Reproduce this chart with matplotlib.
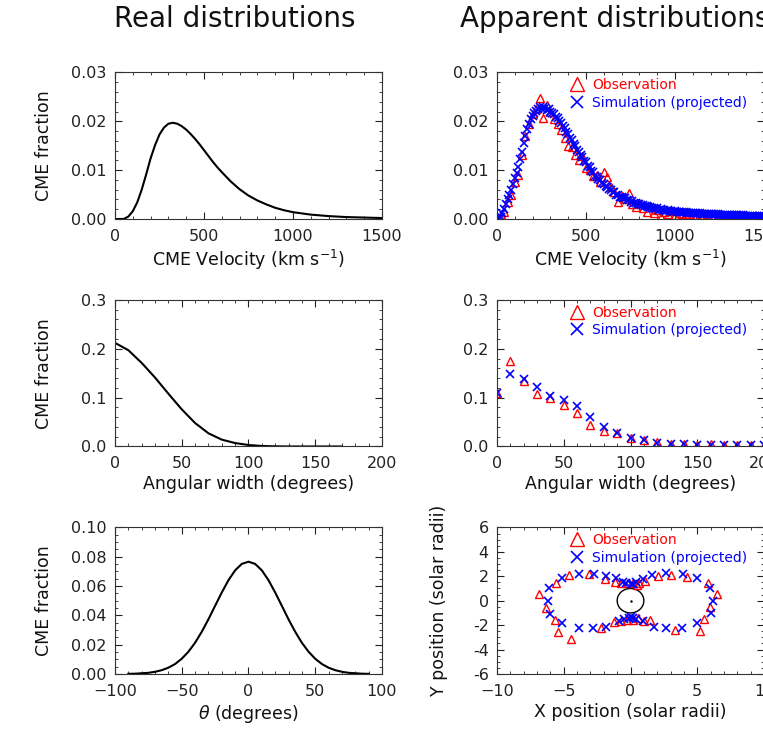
import numpy as np
import matplotlib
matplotlib.use('Agg')
import matplotlib.pyplot as plt
from matplotlib.ticker import MultipleLocator, FormatStrFormatter
from matplotlib.patches import Circle

# ---- real distributions (model input) ----
real_vel = [0, 25, 50, 75, 100, 125, 150, 175, 200, 225, 250, 275, 300, 325, 350,
            375, 400, 425, 450, 475, 500, 525, 550, 575, 600, 650, 700, 750, 800,
            850, 900, 950, 1000, 1100, 1200, 1300, 1400, 1500]
real_vel_frac = [0.0, 0.0, 0.00002, 0.0005, 0.0016, 0.0034, 0.0060, 0.0091, 0.0124,
                 0.0151, 0.0173, 0.0187, 0.0195, 0.0197, 0.0195, 0.0190, 0.0183,
                 0.0174, 0.0164, 0.0153, 0.0141, 0.0129, 0.0117, 0.0106, 0.0096,
                 0.0077, 0.0061, 0.0048, 0.0038, 0.0030, 0.0023, 0.0018, 0.0014,
                 0.0009, 0.0006, 0.0004, 0.0003, 0.0002]

real_width = [0, 10, 20, 30, 40, 50, 60, 70, 80, 90, 100, 110, 120, 130, 140, 150, 160, 170]
real_width_frac = [0.212, 0.197, 0.171, 0.141, 0.108, 0.076, 0.048, 0.027, 0.014, 0.007,
                   0.003, 0.001, 0.0003, 0.0, 0.0, 0.0, 0.0, 0.0]

real_theta = [-90, -85, -80, -75, -70, -65, -60, -55, -50, -45, -40, -35, -30, -25, -20,
              -15, -10, -5, 0, 5, 10, 15, 20, 25, 30, 35, 40, 45, 50, 55, 60, 65, 70,
              75, 80, 85, 90]
real_theta_frac = [0.0001, 0.0002, 0.0005, 0.0008, 0.0015, 0.0026, 0.0043, 0.0068,
                   0.0104, 0.0152, 0.0213, 0.0288, 0.0373, 0.0465, 0.0556, 0.0640,
                   0.0707, 0.0751, 0.0766, 0.0751, 0.0707, 0.0640, 0.0556, 0.0465,
                   0.0373, 0.0288, 0.0213, 0.0152, 0.0104, 0.0068, 0.0043, 0.0026,
                   0.0015, 0.0008, 0.0005, 0.0002, 0.0001]

# ---- apparent distributions: velocity (fraction x 1e-3) ----
obs_vel = np.arange(0, 1501, 20)
obs_vel_frac = [0.0, 0.8, 1.5, 3.5, 5.0, 7.5, 9.0, 13.0, 17.0, 19.5,
                21.5, 22.5, 24.7, 20.6, 23.4, 22.0, 20.5, 19.5, 18.2, 16.5,
                15.0, 14.8, 13.0, 12.0, 12.8, 10.5, 10.0, 8.8, 9.0, 7.5,
                9.7, 8.6, 6.5, 5.5, 3.5, 4.8, 4.0, 5.3, 3.0, 2.5,
                3.2, 2.2, 1.5, 2.6, 1.2, 1.8, 0.5, 1.4, 1.0, 1.6,
                0.8, 1.2, 1.0, 0.6, 1.1, 0.9, 0.5, 0.8, 0.7, 0.4,
                0.9, 0.6, 0.5, 0.7, 0.4, 0.6, 0.5, 0.3, 0.5, 0.4,
                0.6, 0.3, 0.4, 0.5, 0.3, 0.4]
sim_vel = np.arange(0, 1501, 10)
sim_vel_frac = [0.0, 0.2, 0.5, 1.2, 2.0, 3.0, 4.0, 5.0, 6.0, 7.2,
                8.3, 9.5, 10.7, 12.2, 13.8, 15.5, 17.0, 18.4, 19.5, 20.4,
                21.1, 21.7, 22.2, 22.5, 22.9, 22.6, 23.0, 22.7, 22.3, 22.5,
                22.0, 21.6, 21.5, 20.9, 20.7, 20.0, 19.7, 19.0, 18.6, 17.8,
                17.4, 16.6, 16.2, 15.4, 15.0, 14.2, 13.8, 13.0, 12.7, 11.9,
                11.6, 10.9, 10.6, 9.9, 9.6, 8.9, 8.7, 8.1, 7.9, 7.3,
                7.2, 6.7, 6.6, 6.1, 6.0, 5.5, 5.5, 5.0, 5.0, 4.6,
                4.6, 4.2, 4.2, 3.8, 3.9, 3.5, 3.6, 3.2, 3.3, 3.0,
                3.1, 2.8, 2.9, 2.6, 2.7, 2.4, 2.5, 2.2, 2.3, 2.1,
                2.2, 1.9, 2.0, 1.8, 1.9, 1.7, 1.8, 1.6, 1.7, 1.5,
                1.6, 1.45, 1.5, 1.4, 1.45, 1.35, 1.4, 1.3, 1.32, 1.24,
                1.26, 1.18, 1.2, 1.14, 1.16, 1.1, 1.12, 1.06, 1.08, 1.02,
                1.04, 0.98, 1.0, 0.94, 0.96, 0.9, 0.92, 0.86, 0.88, 0.84,
                0.86, 0.81, 0.84, 0.78, 0.8, 0.76, 0.78, 0.73, 0.75, 0.7,
                0.72, 0.68, 0.7, 0.66, 0.68, 0.64, 0.66, 0.62, 0.64, 0.6,
                0.6]

# ---- apparent distributions: angular width ----
app_width = [0, 10, 20, 30, 40, 50, 60, 70, 80, 90, 100, 110, 120, 130, 140, 150,
             160, 170, 180, 190, 200]
obs_width_frac = [0.110, 0.175, 0.133, 0.107, 0.100, 0.085, 0.068, 0.044, 0.032, 0.027,
                  0.018, 0.013, 0.009, 0.006, 0.005, 0.004, 0.005, 0.0035, 0.0035,
                  0.003, 0.0035]
sim_width_frac = [0.109, 0.148, 0.138, 0.121, 0.104, 0.095, 0.083, 0.061, 0.040, 0.027,
                  0.018, 0.013, 0.0075, 0.006, 0.005, 0.004, 0.004, 0.0035, 0.0035,
                  0.0035, 0.0035]

# ---- apparent positions (solar radii) ----
obs_x = [-6.82, -6.32, -5.65, -5.60, -5.40, -4.60, -4.43, -3.11, -2.24, -1.89, -1.25,
         -1.19, -0.70, -0.70, -0.20, -0.25, 0.17, 0.17, 0.45, 0.67, 0.55, 1.10, 1.04,
         1.49, 2.04, 3.04, 3.33, 4.23, 5.22, 5.47, 5.80, 5.97, 6.49]
obs_y = [0.54, -0.63, -1.58, 1.47, -2.53, 2.10, -3.13, 2.18, -2.25, 1.77, -1.71,
         1.55, 1.42, -1.66, 1.42, -1.60, 1.42, -1.58, 1.30, 1.42, -1.45, 1.63, -1.66,
         -1.58, 2.01, 2.10, -2.39, 1.96, -2.47, -1.52, 1.47, -0.54, 0.54]
sim_x = [-6.14, -6.19, -6.02, -5.10, -5.10, -3.86, -3.86, -2.74, -2.81, -1.81, -1.81,
         -1.12, -0.87, -0.57, -0.45, -0.32, -0.15, 0.0, 0.0, 0.2, 0.2, 0.42, 0.42,
         0.92, 0.92, 1.62, 1.74, 2.66, 2.66, 3.90, 3.86, 4.98, 4.98, 5.92, 6.17, 6.0]
sim_y = [1.01, 0.0, -1.09, -1.80, 1.83, 2.18, -2.25, 2.22, -2.25, 2.04, -2.12,
         1.83, -1.66, 1.55, -1.52, 1.42, -1.40, 1.36, -1.36, 1.40, -1.40, 1.55, -1.52,
         1.77, -1.69, 2.10, -2.12, 2.23, -2.25, 2.18, -2.25, 1.83, -1.80, 1.01, 0.0, -0.98]
sun_radius = 1.0

plt.rcParams['font.family'] = ['DejaVu Sans']
plt.rcParams['text.color'] = '#111111'
plt.rcParams['axes.labelcolor'] = '#111111'

fig = plt.figure(figsize=(7.63, 7.33), dpi=100)

L, R, W = 0.1507, 0.6514, 0.3499
rows = [0.7012, 0.3909, 0.0805]
H = 0.2


def style(ax, xmaj, xmin, ymaj, ymin, yfmt):
    ax.xaxis.set_major_locator(MultipleLocator(xmaj))
    ax.xaxis.set_minor_locator(MultipleLocator(xmin))
    ax.yaxis.set_major_locator(MultipleLocator(ymaj))
    ax.yaxis.set_minor_locator(MultipleLocator(ymin))
    ax.yaxis.set_major_formatter(FormatStrFormatter(yfmt))
    ax.tick_params(which='both', direction='in', top=True, right=True,
                   labelsize=11.5, colors='#222222')
    ax.tick_params(which='major', length=5, width=0.8)
    ax.tick_params(which='minor', length=2.5, width=0.6)
    ax.tick_params(axis='x', pad=7)
    ax.tick_params(axis='y', pad=6)
    for s in ax.spines.values():
        s.set_linewidth(0.8)
        s.set_color('#333333')


def legend(ax, h1, h2):
    ax.legend([h1, h2], ['Observation', 'Simulation (projected)'],
              loc='upper left', bbox_to_anchor=(0.273, 0.96), frameon=False,
              borderpad=0, borderaxespad=0, handlelength=1.0, handletextpad=0.6,
              labelspacing=0.25, fontsize=10, markerscale=1.6,
              labelcolor=['red', 'blue'])


obs_kw = dict(ls='none', marker='^', ms=6, mfc='none', mec='red', mew=1.0, color='red')
sim_kw = dict(ls='none', marker='x', ms=5.5, mew=1.2, color='blue')
lab = 12.5

# row 1: velocity
ax = fig.add_axes([L, rows[0], W, H])
ax.plot(real_vel, real_vel_frac, color='black', lw=1.5)
ax.set_xlim(0, 1500)
ax.set_ylim(0, 0.03)
style(ax, 500, 100, 0.01, 0.002, '%.2f')
ax.set_xlabel('CME Velocity (km s$^{-1}$)', fontsize=lab, labelpad=3)
ax.set_ylabel('CME fraction', fontsize=lab)
ax.yaxis.set_label_coords(-0.232, 0.5)

ax = fig.add_axes([R, rows[0], W, H])
h1, = ax.plot(obs_vel, np.array(obs_vel_frac) * 1e-3, **obs_kw)
h2, = ax.plot(sim_vel, np.array(sim_vel_frac) * 1e-3, **sim_kw)
ax.set_xlim(0, 1500)
ax.set_ylim(0, 0.03)
style(ax, 500, 100, 0.01, 0.002, '%.2f')
ax.set_xlabel('CME Velocity (km s$^{-1}$)', fontsize=lab, labelpad=3)
legend(ax, h1, h2)

# row 2: angular width
ax = fig.add_axes([L, rows[1], W, H])
ax.plot(real_width, real_width_frac, color='black', lw=1.5)
ax.set_xlim(0, 200)
ax.set_ylim(0, 0.3)
style(ax, 50, 10, 0.1, 0.02, '%.1f')
ax.set_xlabel('Angular width (degrees)', fontsize=lab, labelpad=3)
ax.set_ylabel('CME fraction', fontsize=lab)
ax.yaxis.set_label_coords(-0.232, 0.5)

ax = fig.add_axes([R, rows[1], W, H])
h1, = ax.plot(app_width, obs_width_frac, **obs_kw)
h2, = ax.plot(app_width, sim_width_frac, **sim_kw)
ax.set_xlim(0, 200)
ax.set_ylim(0, 0.3)
style(ax, 50, 10, 0.1, 0.02, '%.1f')
ax.set_xlabel('Angular width (degrees)', fontsize=lab, labelpad=3)
legend(ax, h1, h2)

# row 3: latitude / positions
ax = fig.add_axes([L, rows[2], W, H])
ax.plot(real_theta, real_theta_frac, color='black', lw=1.5)
ax.set_xlim(-100, 100)
ax.set_ylim(0, 0.1)
style(ax, 50, 10, 0.02, 0.005, '%.2f')
ax.set_xlabel(r'$\theta$ (degrees)', fontsize=lab, labelpad=3)
ax.set_ylabel('CME fraction', fontsize=lab)
ax.yaxis.set_label_coords(-0.232, 0.5)

ax = fig.add_axes([R, rows[2], W, H])
h1, = ax.plot(obs_x, obs_y, **obs_kw)
h2, = ax.plot(sim_x, sim_y, **sim_kw)
ax.add_patch(Circle((0, 0), sun_radius, fill=False, ec='black', lw=1.0))
ax.plot([0], [0], marker='.', ms=1.5, color='black')
ax.set_xlim(-10, 10)
ax.set_ylim(-6, 6)
style(ax, 5, 1, 2, 0.5, '%d')
ax.set_xlabel('X position (solar radii)', fontsize=lab, labelpad=3)
ax.set_ylabel('Y position (solar radii)', fontsize=lab)
ax.yaxis.set_label_coords(-0.184, 0.5)
legend(ax, h1, h2)

fig.text(0.308, 0.974, 'Real distributions', fontsize=20, ha='center', va='center')
fig.text(0.603, 0.974, 'Apparent distributions', fontsize=20, ha='left', va='center')

fig.savefig('out.png', dpi=100)
